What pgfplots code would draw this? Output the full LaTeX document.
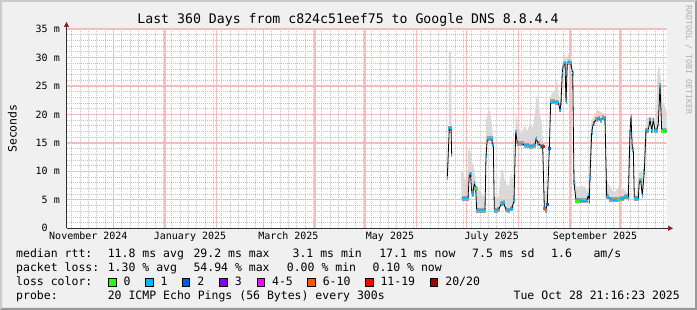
\documentclass[border=0pt]{standalone}
\usepackage{fontspec}
\setmainfont{DejaVu Sans Mono}
\usepackage{pgfplots}
\pgfplotsset{compat=1.18}
\usepackage{pgfplotstable}
\usetikzlibrary{arrows.meta}

\definecolor{backc}{HTML}{F0F0F0}
\definecolor{shadea}{HTML}{CBCBCB}
\definecolor{shadeb}{HTML}{999999}
\definecolor{mgrid}{HTML}{F4BCBC}
\definecolor{ngrid}{HTML}{C4C4C4}
\definecolor{arrowc}{HTML}{8B1A1A}
\definecolor{axisc}{HTML}{303030}
\definecolor{smokeA}{HTML}{D9D9D9}
\definecolor{smokeB}{HTML}{A0A0A0}
\definecolor{wmc}{HTML}{B0B0B0}
\definecolor{l0}{HTML}{26FF00}
\definecolor{l1}{HTML}{00B8FF}
\definecolor{l2}{HTML}{0059FF}
\definecolor{l3}{HTML}{7E00FF}
\definecolor{l4}{HTML}{FF00FF}
\definecolor{l6}{HTML}{FF5500}
\definecolor{l11}{HTML}{FF0000}
\definecolor{l20}{HTML}{A10000}

\newcommand{\titlefont}{\fontsize{13.2pt}{15pt}\selectfont}
\newcommand{\legfont}{\fontsize{11.5pt}{13pt}\selectfont}
\newcommand{\tickfont}{\fontsize{10pt}{12pt}\selectfont}
\newcommand{\wmfont}{\fontsize{8.3pt}{10pt}\selectfont}

% median rtt (days since 2024-11-01, ms)
\pgfplotstableread{
day ms
230.37 9.0
231.57 17.6
232.59 17.6
233.01 12.9
}\medA
\pgfplotstableread{
day ms
239.01 5.3
242.79 5.3
243.57 9.5
244.29 9.5
245.01 6.4
245.61 6.0
246.57 7.9
247.41 7.0
248.01 3.2
252.99 3.2
253.59 12.7
254.37 15.7
257.01 15.7
257.37 14.7
257.97 14.7
258.57 3.2
259.99 3.2
260.97 3.3
263.01 4.3
263.97 4.5
265.59 3.3
266.79 3.2
269.01 3.4
270.39 4.8
271.41 16.9
272.37 14.9
274.59 14.9
277.59 14.6
280.59 14.4
282.99 14.6
283.59 15.7
284.97 14.9
287.01 14.4
287.61 14.4
288.57 3.5
289.41 3.2
290.37 4.3
291.57 14.0
292.41 22.2
296.97 22.1
297.99 20.8
298.59 22.1
299.37 27.3
299.97 28.7
300.99 29.0
301.59 22.2
302.37 29.0
303.57 29.2
304.41 29.0
305.61 27.2
306.39 8.0
307.59 4.9
314.01 4.8
314.97 5.8
315.57 4.9
315.99 9.0
317.01 16.9
317.97 18.4
319.59 19.1
321.39 19.3
322.59 19.0
323.79 19.4
324.99 19.3
326.01 5.5
326.97 5.5
327.99 5.1
329.97 5.0
332.97 5.0
335.19 5.2
338.01 5.5
338.97 5.3
339.99 16.8
340.59 19.6
341.37 13.8
341.97 13.8
342.57 5.3
344.97 5.2
345.57 8.4
346.41 8.4
347.37 5.8
348.57 9.9
349.59 17.2
350.97 17.2
351.99 19.0
353.01 17.2
353.97 19.0
354.99 17.2
356.01 17.2
356.97 18.4
357.99 25.0
359.01 17.2
359.97 17.2
360.99 17.1
361.89 17.1
}\medB
% smoke outlines: upper edge left to right, then the median right to left
\pgfplotstableread{
day ms
230.37 9.5
231.20 10.5
231.40 31.0
232.70 31.0
233.01 13.4
233.01 12.9
232.59 17.6
231.57 17.6
230.37 9.0
}\smokeAtab
\pgfplotstableread{
day ms
238.41 9.7
239.61 9.9
240.99 8.4
242.50 9.0
242.97 14.0
243.99 13.8
245.01 12.0
245.97 10.9
246.99 9.1
248.01 7.0
249.99 6.7
251.97 5.6
252.99 5.6
253.59 19.0
254.97 20.5
255.99 20.8
257.01 18.3
257.97 15.4
258.57 5.6
260.97 5.4
263.01 10.5
263.97 9.7
264.99 8.0
266.97 7.4
269.01 9.7
269.97 8.4
270.40 6.1
271.45 20.5
272.97 17.6
275.01 16.7
276.99 18.1
278.37 17.0
279.99 18.7
281.61 17.6
282.99 20.2
284.01 23.4
284.97 22.8
285.99 20.0
287.01 18.3
287.61 16.0
288.57 6.5
290.40 6.5
291.57 15.0
291.99 22.8
293.01 23.7
294.99 24.2
296.01 26.3
296.97 24.2
297.99 21.4
299.01 27.8
300.39 31.0
301.59 29.6
302.97 30.5
303.99 30.8
305.01 29.0
305.97 26.6
306.39 9.7
307.59 7.3
308.97 7.3
311.01 7.4
312.99 7.3
314.61 6.4
315.57 9.7
316.41 18.3
317.61 19.3
318.99 19.9
320.37 20.8
321.99 20.5
323.61 20.2
324.99 19.6
326.01 8.5
326.97 7.9
329.01 6.7
330.99 6.4
332.97 7.3
335.01 7.0
336.99 6.7
338.37 6.1
339.57 16.1
340.41 20.8
341.19 16.5
341.97 14.8
342.57 6.1
343.99 6.1
345.57 10.2
347.01 9.7
347.97 9.9
348.99 16.7
350.01 19.3
351.99 19.6
353.97 19.3
355.59 19.0
356.37 26.6
357.39 28.7
358.41 26.6
359.19 21.9
360.39 21.9
361.59 20.8
361.89 20.5
361.89 17.1
360.99 17.1
359.97 17.2
359.01 17.2
357.99 25.0
356.97 18.4
356.01 17.2
354.99 17.2
353.97 19.0
353.01 17.2
351.99 19.0
350.97 17.2
349.59 17.2
348.57 9.9
347.37 5.8
346.41 8.4
345.57 8.4
344.97 5.2
342.57 5.3
341.97 13.8
341.37 13.8
340.59 19.6
339.99 16.8
338.97 5.3
338.01 5.5
335.19 5.2
332.97 5.0
329.97 5.0
327.99 5.1
326.97 5.5
326.01 5.5
324.99 19.3
323.79 19.4
322.59 19.0
321.39 19.3
319.59 19.1
317.97 18.4
317.01 16.9
315.99 9.0
315.57 4.9
314.97 5.8
314.01 4.8
307.59 4.9
306.39 8.0
305.61 27.2
304.41 29.0
303.57 29.2
302.37 29.0
301.59 22.2
300.99 29.0
299.97 28.7
299.37 27.3
298.59 22.1
297.99 20.8
296.97 22.1
292.41 22.2
291.57 14.0
290.37 4.3
289.41 3.2
288.57 3.5
287.61 14.4
287.01 14.4
284.97 14.9
283.59 15.7
282.99 14.6
280.59 14.4
277.59 14.6
274.59 14.9
272.37 14.9
271.41 16.9
270.39 4.8
269.01 3.4
266.79 3.2
265.59 3.3
263.97 4.5
263.01 4.3
260.97 3.3
259.99 3.2
258.57 3.2
257.97 14.7
257.37 14.7
257.01 15.7
254.37 15.7
253.59 12.7
252.99 3.2
248.01 3.2
247.41 7.0
246.57 7.9
245.61 6.0
245.01 6.4
244.29 9.5
243.57 9.5
242.79 5.3
239.01 5.3
}\smokeBtab

\begin{document}
\begin{tikzpicture}
\fill[backc] (0,0) rectangle (697pt,310pt);
\fill[shadea] (0,0) -- (0,310pt) -- (697pt,310pt) -- (695pt,308pt) -- (2pt,308pt) -- (2pt,2pt) -- cycle;
\fill[shadeb] (0,0) -- (697pt,0) -- (697pt,310pt) -- (695pt,308pt) -- (695pt,2pt) -- (2pt,2pt) -- cycle;

\begin{axis}[
  at={(66.5pt,81.7pt)}, anchor=south west,
  scale only axis, width=600pt, height=199.3pt,
  xmin=1.886, xmax=361.886, ymin=0, ymax=35,
  axis background/.style={fill=white},
  axis x line=bottom, axis y line=left,
  axis line style={draw=axisc, line width=0.7pt},
  x axis line style={-{Triangle[length=5pt,width=5pt,color=arrowc]}, shorten >=-6.5pt},
  y axis line style={-{Triangle[length=5pt,width=5pt,color=arrowc]}, shorten >=-7pt},
  xtick={15,76,135,196,257,319},
  xticklabels={November 2024,January 2025,March 2025,May 2025,July 2025,September 2025},
  minor xtick={5,10,...,360},
  xminorgrids,
  ytick={0,5,...,35},
  yticklabels={0\phantom{\ m},5 m,10 m,15 m,20 m,25 m,30 m,35 m},
  minor y tick num=4,
  yminorgrids,
  major tick length=0pt, minor tick length=0pt,
  minor grid style={draw=ngrid, dash pattern=on 1pt off 1pt, line width=0.7pt},
  tick label style={font=\tickfont, text=black},
  xticklabel style={anchor=base, inner sep=0pt, yshift=-11.7pt},
  yticklabel style={anchor=east, inner sep=0pt, xshift=-6.5pt},
]
% smoke (light)
\addplot[fill=smokeA, draw=none] table {\smokeAtab} -- cycle;
\addplot[fill=smokeA, draw=none] table {\smokeBtab} -- cycle;
% major grid: every 5 ms and at the start of each month
\pgfplotsinvokeforeach{5,10,15,20,25,30,35}{
  \addplot[draw=mgrid, line width=1.3pt, forget plot] coordinates {(1.886,#1) (361.886,#1)};
}
\pgfplotsinvokeforeach{30,61,92,120,151,181,212,242,273,304,334}{
  \addplot[draw=mgrid, line width=1.3pt, forget plot] coordinates {(#1,0) (#1,35)};
}
% smoke (denser part around the median)
\addplot[jump mark mid, draw=smokeB, line width=5pt] table {\medA};
\addplot[jump mark mid, draw=smokeB, line width=5pt] table {\medB};
% median
\addplot[black, line width=0.8pt] table {\medA};
\addplot[black, line width=0.8pt] table {\medB};
\addplot[jump mark mid, draw=l1, line width=1.9pt] table {\medA};
\addplot[jump mark mid, draw=l1, line width=1.9pt] table {\medB};
% samples with other loss levels
\addplot[only marks, mark=square*, mark size=1.1pt, color=l0] coordinates {(247.41,7.0) (308.01,4.8) (332.97,5.0) (359.61,17.1)};
\addplot[only marks, mark=square*, mark size=1.1pt, color=l11] coordinates {(287.61,14.4)};
\addplot[only marks, mark=square*, mark size=1.1pt, color=l6] coordinates {(288.57,3.5)};
\addplot[only marks, mark=square*, mark size=1.1pt, color=l2] coordinates {(290.37,4.2) (291.57,14.0)};
\end{axis}

% title, axis label, watermark
\node[anchor=base, font=\titlefont] at (348pt,286.7pt) {Last 360 Days from c824c51eef75 to Google DNS 8.8.4.4};
\node[rotate=90, anchor=base, font=\legfont] at (16.5pt,181.4pt) {Seconds};
\node[rotate=-90, anchor=base, font=\wmfont, text=wmc] at (686pt,250pt) {RRDTOOL / TOBI OETIKER};

% legend
\begin{scope}[every node/.style={anchor=base west, font=\legfont, inner sep=0pt}]
\node at (16pt,52.3pt) {median rtt:};
\node at (107.6pt,52.3pt) {11.8 ms avg};
\node at (193.3pt,52.3pt) {29.2 ms max};
\node at (292.4pt,52.3pt) {3.1 ms min};
\node at (379.1pt,52.3pt) {17.1 ms now};
\node at (472pt,52.3pt) {7.5 ms sd};
\node at (551pt,52.3pt) {1.6};
\node at (593.3pt,52.3pt) {am/s};

\node at (16pt,38.3pt) {packet loss:};
\node at (107.6pt,38.3pt) {1.30 \% avg};
\node at (193.3pt,38.3pt) {54.94 \% max};
\node at (286.7pt,38.3pt) {0.00 \% min};
\node at (372.4pt,38.3pt) {0.10 \% now};

\node at (16pt,24.3pt) {loss color:};
\node at (123.3pt,24.3pt) {0};
\node at (160.3pt,24.3pt) {1};
\node at (197.2pt,24.3pt) {2};
\node at (234.6pt,24.3pt) {3};
\node at (271.9pt,24.3pt) {4-5};
\node at (322.6pt,24.3pt) {6-10};
\node at (380.3pt,24.3pt) {11-19};
\node at (445.2pt,24.3pt) {20/20};

\node at (16pt,10.3pt) {probe:};
\node at (107.6pt,10.3pt) {20 ICMP Echo Pings (56 Bytes) every 300s};
\node[anchor=base east] at (680pt,10.3pt) {Tue Oct 28 21:16:23 2025};
\end{scope}

\begin{scope}[line width=0.6pt, draw=black]
\filldraw[fill=l0]  (108.3pt,24pt) rectangle ++(7.5pt,7.7pt);
\filldraw[fill=l1]  (145.3pt,24pt) rectangle ++(7.5pt,7.7pt);
\filldraw[fill=l2]  (182.2pt,24pt) rectangle ++(7.5pt,7.7pt);
\filldraw[fill=l3]  (219.6pt,24pt) rectangle ++(7.5pt,7.7pt);
\filldraw[fill=l4]  (256.9pt,24pt) rectangle ++(7.5pt,7.7pt);
\filldraw[fill=l6]  (307.6pt,24pt) rectangle ++(7.5pt,7.7pt);
\filldraw[fill=l11] (365.3pt,24pt) rectangle ++(7.5pt,7.7pt);
\filldraw[fill=l20] (430.2pt,24pt) rectangle ++(7.5pt,7.7pt);
\end{scope}
\end{tikzpicture}
\end{document}
